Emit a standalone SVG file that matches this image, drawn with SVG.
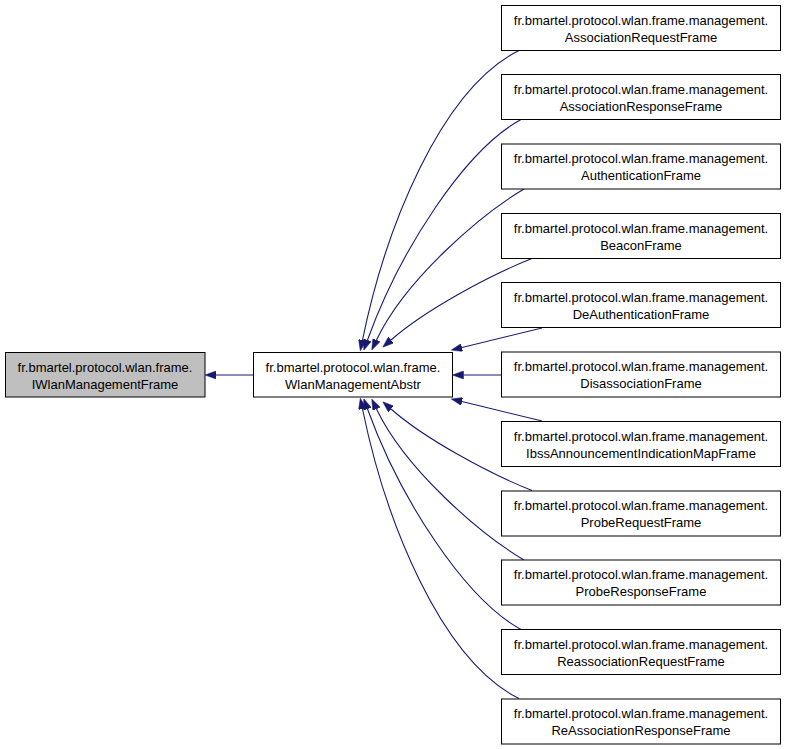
<svg xmlns="http://www.w3.org/2000/svg" width="787" height="749" viewBox="0 0 787 749">
<style>
.node rect{fill:#ffffff;stroke:#000000;stroke-width:1}
.node.hl rect{fill:#bfbfbf}
.node text{font-family:"Liberation Sans",Arial,sans-serif;font-size:13px;fill:#000000;text-anchor:middle}
.edges path{fill:none;stroke:#191970;stroke-width:1.1}
</style>
<defs>
<marker id="arr" viewBox="0 0 11 8" refX="0" refY="4" markerWidth="11" markerHeight="8" markerUnits="userSpaceOnUse" orient="auto">
<path d="M0,0 L11,4 L0,8 z" fill="#191970" stroke="#191970" stroke-width="0.5"/>
</marker>
</defs>
<rect width="787" height="749" fill="#ffffff"/>
<g id="edges" class="edges">
<path marker-end="url(#arr)" d="M253.5,375 L216,375"/>
<path marker-end="url(#arr)" d="M519,50.5 C440,90 385,230 362.5,340"/>
<path marker-end="url(#arr)" d="M521,119.5 C465,150 400,250 367.5,340"/>
<path marker-end="url(#arr)" d="M524,189 C480,215 405,280 376.5,340"/>
<path marker-end="url(#arr)" d="M532,258.5 C490,275 425,310 391,340"/>
<path marker-end="url(#arr)" d="M542,328 L462,347.5"/>
<path marker-end="url(#arr)" d="M501.5,375 L463.5,375"/>
<path marker-end="url(#arr)" d="M542,421 L462,401.5"/>
<path marker-end="url(#arr)" d="M532,490.5 C490,474 425,439 391,409"/>
<path marker-end="url(#arr)" d="M524,560 C480,534 405,469 376.5,409"/>
<path marker-end="url(#arr)" d="M521,629.5 C465,599 400,499 367.5,409"/>
<path marker-end="url(#arr)" d="M519,698.5 C440,659 385,519 362.5,409"/>
</g>
<g id="IWlanManagementFrame" class="node hl">
<rect x="5.5" y="352.5" width="199.5" height="44.5"/>
<text x="105" y="371.5">fr.bmartel.protocol.wlan.frame.</text>
<text x="105" y="388.5">IWlanManagementFrame</text>
</g>
<g id="WlanManagementAbstr" class="node">
<rect x="253.5" y="352.5" width="199" height="44.5"/>
<text x="353" y="371.5">fr.bmartel.protocol.wlan.frame.</text>
<text x="353" y="388.5">WlanManagementAbstr</text>
</g>
<g id="AssociationRequestFrame" class="node">
<rect x="501.5" y="5.5" width="279" height="45"/>
<text x="641" y="24.5">fr.bmartel.protocol.wlan.frame.management.</text>
<text x="641" y="41.5">AssociationRequestFrame</text>
</g>
<g id="AssociationResponseFrame" class="node">
<rect x="501.5" y="74.5" width="279" height="45"/>
<text x="641" y="93.5">fr.bmartel.protocol.wlan.frame.management.</text>
<text x="641" y="110.5">AssociationResponseFrame</text>
</g>
<g id="AuthenticationFrame" class="node">
<rect x="501.5" y="144" width="279" height="45"/>
<text x="641" y="163">fr.bmartel.protocol.wlan.frame.management.</text>
<text x="641" y="180">AuthenticationFrame</text>
</g>
<g id="BeaconFrame" class="node">
<rect x="501.5" y="213.5" width="279" height="45"/>
<text x="641" y="232.5">fr.bmartel.protocol.wlan.frame.management.</text>
<text x="641" y="249.5">BeaconFrame</text>
</g>
<g id="DeAuthenticationFrame" class="node">
<rect x="501.5" y="282.5" width="279" height="45"/>
<text x="641" y="301.5">fr.bmartel.protocol.wlan.frame.management.</text>
<text x="641" y="318.5">DeAuthenticationFrame</text>
</g>
<g id="DisassociationFrame" class="node">
<rect x="501.5" y="352" width="279" height="45"/>
<text x="641" y="371">fr.bmartel.protocol.wlan.frame.management.</text>
<text x="641" y="388">DisassociationFrame</text>
</g>
<g id="IbssAnnouncementIndicationMapFrame" class="node">
<rect x="501.5" y="421.5" width="279" height="45"/>
<text x="641" y="440.5">fr.bmartel.protocol.wlan.frame.management.</text>
<text x="641" y="457.5">IbssAnnouncementIndicationMapFrame</text>
</g>
<g id="ProbeRequestFrame" class="node">
<rect x="501.5" y="491" width="279" height="45"/>
<text x="641" y="510">fr.bmartel.protocol.wlan.frame.management.</text>
<text x="641" y="527">ProbeRequestFrame</text>
</g>
<g id="ProbeResponseFrame" class="node">
<rect x="501.5" y="560" width="279" height="45"/>
<text x="641" y="579">fr.bmartel.protocol.wlan.frame.management.</text>
<text x="641" y="596">ProbeResponseFrame</text>
</g>
<g id="ReassociationRequestFrame" class="node">
<rect x="501.5" y="629.5" width="279" height="45"/>
<text x="641" y="648.5">fr.bmartel.protocol.wlan.frame.management.</text>
<text x="641" y="665.5">ReassociationRequestFrame</text>
</g>
<g id="ReAssociationResponseFrame" class="node">
<rect x="501.5" y="699" width="279" height="45"/>
<text x="641" y="718">fr.bmartel.protocol.wlan.frame.management.</text>
<text x="641" y="735">ReAssociationResponseFrame</text>
</g>
</svg>
